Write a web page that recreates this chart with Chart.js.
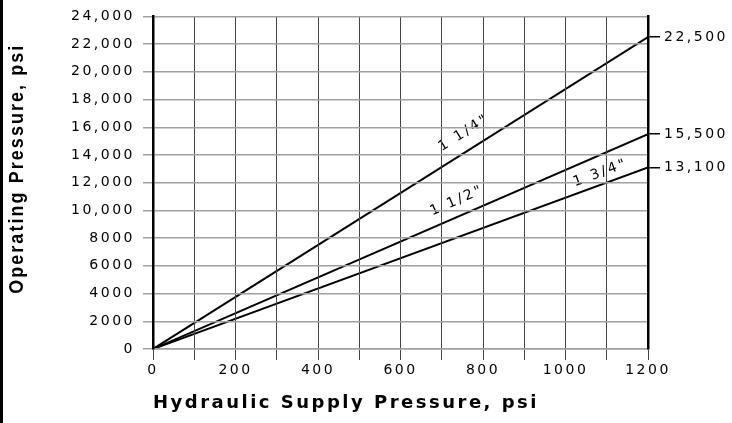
<!DOCTYPE html>
<html>
<head>
<meta charset="utf-8">
<script src="https://cdn.jsdelivr.net/npm/chart.js@4/dist/chart.umd.min.js"></script>
<style>
  html, body { margin: 0; padding: 0; background: #fff; }
  #wrap { position: relative; width: 732px; height: 423px; border-left: 3px solid #000; box-sizing: border-box; }
</style>
</head>
<body>
<div id="wrap"><canvas id="chart" width="729" height="423"></canvas></div>
<script>
// supply pressure (x) and operating pressure per hose size
const supply = [0, 1200];
const size114 = [0, 22500];
const size112 = [0, 15500];
const size134 = [0, 13100];

const endValues = [22500, 15500, 13100];

// line captions, placed in data units
const captions = ['1 1/4"', '1 1/2"', '1 3/4"'];
const captionX = [754, 737, 1085];
const captionY = [15600, 10700, 12700];

const SPACING = '2.5px';
const tickFont = { family: 'DejaVu Sans', size: 14 };

function fmt(v) {
  return v >= 10000 ? v.toLocaleString('en-US') : String(v);
}

const spacingPlugin = {
  id: 'spacing',
  beforeDraw(chart) { chart.ctx.letterSpacing = SPACING; }
};

const captionPlugin = {
  id: 'captions',
  afterDatasetsDraw(chart) {
    const { ctx, scales: { x, y } } = chart;
    chart.data.datasets.forEach((ds, i) => {
      const p0 = ds.data[0], p1 = ds.data[ds.data.length - 1];
      const ang = Math.atan2(y.getPixelForValue(p1.y) - y.getPixelForValue(p0.y),
                             x.getPixelForValue(p1.x) - x.getPixelForValue(p0.x));
      ctx.save();
      ctx.translate(x.getPixelForValue(captionX[i]), y.getPixelForValue(captionY[i]));
      ctx.rotate(ang);
      ctx.font = '14px "DejaVu Sans"';
      ctx.fillStyle = '#000';
      ctx.textAlign = 'center';
      ctx.textBaseline = 'middle';
      ctx.fillText(captions[i], 0, 0);
      ctx.restore();
    });
  },
  afterDraw(chart) {
    // y title: tall narrow bold type, squeezed along the text direction
    const { ctx, chartArea } = chart;
    ctx.save();
    ctx.translate(14, (chartArea.top + chartArea.bottom) / 2 - 14);
    ctx.rotate(-Math.PI / 2);
    ctx.scale(0.85, 1);
    ctx.font = 'bold 21px "Liberation Sans", Arial, sans-serif';
    ctx.fillStyle = '#000';
    ctx.textAlign = 'center';
    ctx.textBaseline = 'middle';
    ctx.fillText('Operating Pressure, psi', 0, 0);
    ctx.restore();
  }
};

function series(ys) {
  return supply.map((v, i) => ({ x: v, y: ys[i] }));
}

const lineStyle = { borderColor: '#000', borderWidth: 2, pointRadius: 0, fill: false };

new Chart(document.getElementById('chart'), {
  type: 'line',
  data: {
    datasets: [
      { label: captions[0], data: series(size114), ...lineStyle },
      { label: captions[1], data: series(size112), ...lineStyle },
      { label: captions[2], data: series(size134), ...lineStyle }
    ]
  },
  options: {
    responsive: false,
    animation: false,
    devicePixelRatio: 1,
    layout: { padding: { top: 15, left: 0, right: 0, bottom: 0 } },
    plugins: { legend: { display: false }, tooltip: { enabled: false } },
    scales: {
      x: {
        type: 'linear',
        min: 0, max: 1200,
        afterFit: s => { s.height = 74; },
        grid: { z: 1, drawOnChartArea: true, color: '#444', lineWidth: 1, tickLength: 11 },
        border: { z: 1, color: '#999', width: 1.5 },
        ticks: {
          stepSize: 100, autoSkip: false, maxRotation: 0, padding: 2,
          color: '#000', font: tickFont,
          callback: v => (v % 200 === 0 ? String(v) : '')
        },
        title: {
          display: true, text: 'Hydraulic Supply Pressure, psi', align: 'start',
          color: '#000', font: { family: 'DejaVu Sans', size: 18, weight: 'bold' },
          padding: { top: 4, bottom: 9 }
        }
      },
      y: {
        type: 'linear',
        min: 0, max: 24000,
        afterFit: s => { s.width = 150; },
        grid: { z: 1, drawOnChartArea: true, color: '#a0a0a0', lineWidth: 1.5, tickLength: 10 },
        border: { z: 2, color: '#000', width: 2.5 },
        ticks: { stepSize: 2000, color: '#000', font: tickFont, padding: 8, callback: fmt }
      },
      y2: {
        type: 'linear',
        position: 'right',
        min: 0, max: 24000,
        afterFit: s => { s.width = 84; },
        afterBuildTicks: s => { s.ticks = endValues.map(v => ({ value: v })); },
        grid: { color: 'rgba(0,0,0,0)', tickColor: '#000', lineWidth: 1.5, tickWidth: 1.5, tickLength: 12 },
        border: { z: 2, color: '#000', width: 2.5 },
        ticks: { color: '#000', font: tickFont, padding: 4, callback: fmt }
      }
    }
  },
  plugins: [spacingPlugin, captionPlugin]
});
</script>
</body>
</html>
